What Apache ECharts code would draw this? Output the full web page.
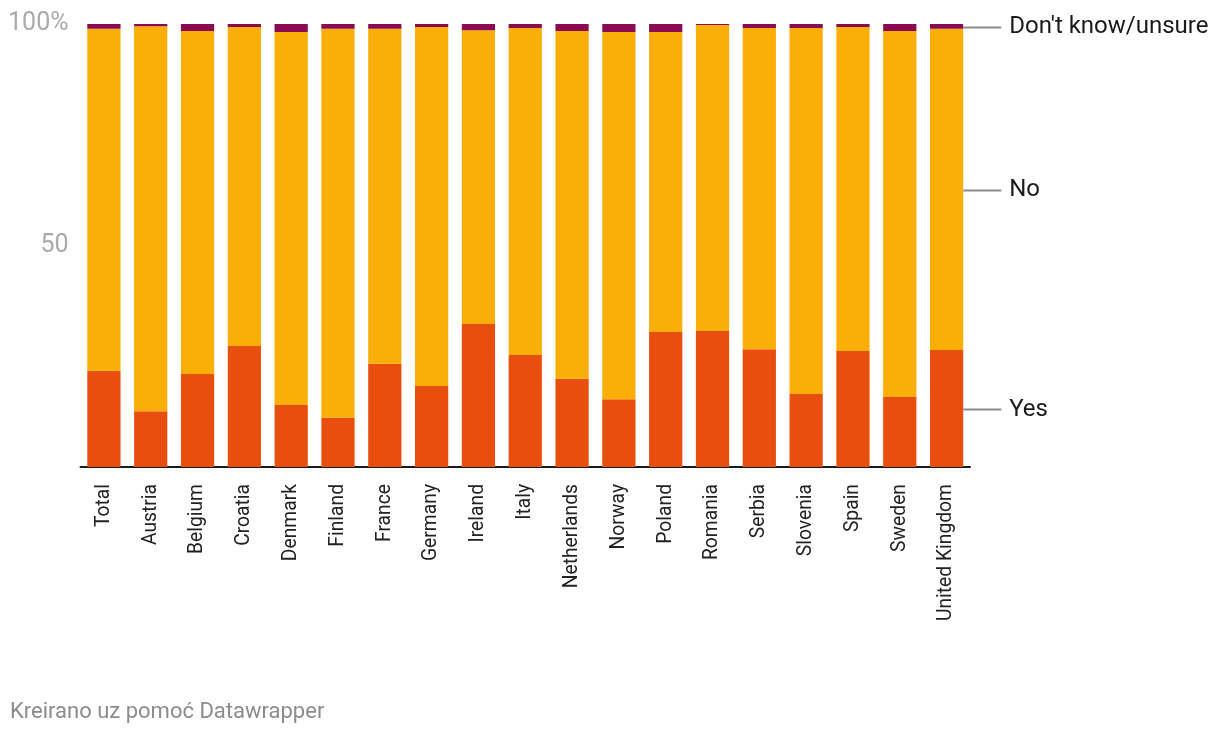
<!DOCTYPE html>
<html>
<head>
<meta charset="utf-8">
<script src="https://cdn.jsdelivr.net/npm/echarts@6/dist/echarts.min.js"></script>
<style>
html,body{margin:0;padding:0;background:#fff;}
#chart{width:1220px;height:736px;}
</style>
</head>
<body>
<div id="chart"></div>
<script>
const categories = ["Total","Austria","Belgium","Croatia","Denmark","Finland","France","Germany","Ireland","Italy","Netherlands","Norway","Poland","Romania","Serbia","Slovenia","Spain","Sweden","United Kingdom"];
const yesValues = [21.7,12.6,21.0,27.3,14.0,11.1,23.3,18.3,32.3,25.3,19.9,15.3,30.5,30.7,26.6,16.5,26.2,15.8,26.4];
const dkValues  = [1.1,0.5,1.6,0.7,1.8,1.1,1.1,0.7,1.4,0.9,1.6,1.8,1.8,0.2,0.9,0.9,0.7,1.6,1.1];
const noValues  = yesValues.map((y,i)=> +(100 - y - dkValues[i]).toFixed(1));
const seriesNames = ["Yes","No","Don't know/unsure"];
const yTicks = {100:"100%",50:"50",0:""};

const chart = echarts.init(document.getElementById('chart'));
const lastIdx = categories.length - 1;
function endLabel(name){
  return {
    show: true,
    position: 'right',
    distance: 0,
    offset: [0, 1],
    formatter: (p) => p.dataIndex === lastIdx ? '{ln|}{t|' + name + '}' : '',
    rich: {
      ln: {width: 38, height: 2, backgroundColor: '#8c8c8c', verticalAlign: 'middle'},
      t: {fontSize: 24, color: '#1a1a1a', fontFamily: 'Roboto', padding: [0,0,0,8], verticalAlign: 'middle'}
    }
  };
}
const colors = ['#e84f0f','#f9ae08','#8a0b52'];
const datasets = [yesValues, noValues, dkValues];
chart.setOption({
  animation: false,
  textStyle: {fontFamily: 'Roboto'},
  grid: {left: 80.5, width: 889.5, top: 24, bottom: 269, containLabel: false},
  xAxis: {
    type: 'category',
    data: categories,
    axisLine: {lineStyle: {color: '#1a1a1a', width: 2}},
    axisTick: {show: false},
    axisLabel: {rotate: 90, fontSize: 19.3, color: '#222', margin: 17, interval: 0, fontFamily: 'Roboto'}
  },
  yAxis: {
    type: 'value',
    min: 0, max: 100, interval: 50,
    splitLine: {show: false},
    axisLine: {show: false},
    axisTick: {show: false},
    axisLabel: {fontSize: 25, color: '#aaaaaa', margin: 12, fontFamily: 'Roboto', padding: [5,0,0,0],
      formatter: (v) => yTicks[v] !== undefined ? yTicks[v] : ''}
  },
  series: seriesNames.map((n,i)=>({
    name: n,
    type: 'bar',
    stack: 'total',
    barWidth: '71%',
    data: datasets[i],
    itemStyle: {color: colors[i]},
    label: endLabel(n)
  })),
  graphic: [{
    type: 'text', left: 10, top: 701,
    style: {text: 'Kreirano uz pomoć Datawrapper', fontSize: 22, fill: '#8c8c8c', fontFamily: 'Roboto'}
  }]
});
</script>
</body>
</html>
